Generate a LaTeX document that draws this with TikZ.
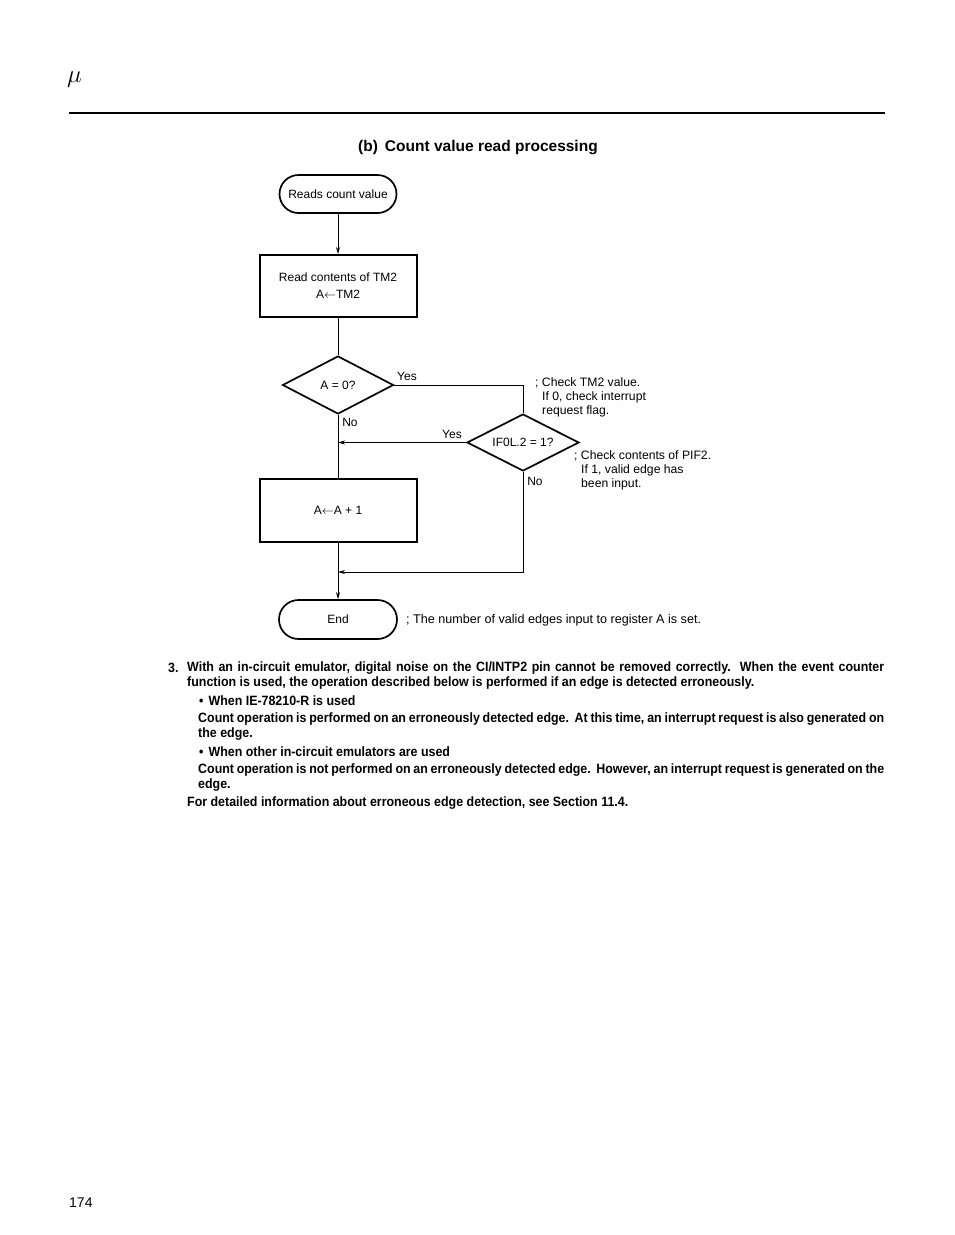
\documentclass[tikz,border=0pt]{standalone}
\usepackage{fontspec}
\setmainfont{Liberation Sans}
\newfontfamily\cond[FakeStretch=0.92]{Liberation Sans}
\usetikzlibrary{arrows.meta,shapes.geometric}
\begin{document}
\begin{tikzpicture}[x=1pt,y=-1pt,
  box/.style={draw,line width=2pt,minimum width=157pt,minimum height=62pt,inner sep=0,align=center,font=\fontsize{12}{17}\selectfont},
  term/.style={draw,line width=1.7pt,rounded corners=19pt,minimum width=117pt,minimum height=38pt,inner sep=0,font=\fontsize{12}{14}\selectfont},
  dec/.style={draw,diamond,aspect=2,line width=1.7pt,minimum width=111pt,minimum height=58pt,inner sep=0,font=\fontsize{12}{14}\selectfont},
  conn/.style={line width=0.9pt},
  arr/.style={conn,-{Stealth[length=7pt,width=4pt]}},
  lbl/.style={inner sep=0,font=\fontsize{12}{14}\selectfont},
  cmt/.style={inner sep=0,anchor=west,font=\fontsize{12.2}{14}\selectfont},
  note/.style={inner sep=0,anchor=west,font=\cond\bfseries\fontsize{13.5}{15}\selectfont}
]
\useasboundingbox (0,0) rectangle (954,1235);

% header
\node[anchor=west,inner sep=0] (mu) at (67,80) {\fontsize{24}{24}\selectfont$\mu$};
\draw[line width=2.2pt] (69,113) coordinate (hl) -- (885,113) coordinate (hr);
\node[anchor=west,inner sep=0,font=\bfseries\fontsize{15.5}{18}\selectfont] (title) at (358,148) {(b)\hspace{7pt}Count value read processing};

% flowchart
\node[term] (start) at (338,194) {Reads count value};
\node[box] (read) at (338,286) {Read contents of TM2\\A$\leftarrow$TM2};
\node[dec] (q1) at (338,385) {A = 0?};
\node[dec,minimum width=112pt,minimum height=57pt] (q2) at (523,442.5) {IF0L.2 = 1?};
\node[box,minimum height=63pt] (inc) at (338,510.5) {A$\leftarrow$A + 1};
\node[term,minimum width=118pt,minimum height=39pt,rounded corners=19.5pt] (end) at (338,619.5) {End};
\coordinate (j) at (338,572);

\draw[arr] (start) -- (read);
\draw[conn] (read) -- (q1);
\draw[conn] (q1.east) -| (q2.north);
\draw[conn] (q1.south) -- (inc.north);
\draw[arr] (q2.west) -- (q2.west -| q1.south);
\draw[arr] (inc) -- (end);
\draw[arr] (q2.south) |- (j);

\node[lbl] (y1) at (407,376) {Yes};
\node[lbl] (n1) at (350,422) {No};
\node[lbl] (y2) at (452,434) {Yes};
\node[lbl] (n2) at (535,481) {No};

\node[cmt] (c1) at (535,383) {; Check TM2 value.};
\node[cmt] (c2) at (542,397) {If 0, check interrupt};
\node[cmt] (c3) at (542,411) {request flag.};
\node[cmt] (c4) at (574,456) {; Check contents of PIF2.};
\node[cmt] (c5) at (581,470) {If 1, valid edge has};
\node[cmt] (c6) at (581,484) {been input.};
\node[cmt,font=\fontsize{12.6}{14}\selectfont] (c7) at (406,620) {; The number of valid edges input to register A is set.};

% notes
\node[note] (n3) at (168,668) {3.};
\node[note] (l1) at (187,668) {\makebox[697pt][s]{With an in-circuit emulator, digital noise on the CI/INTP2 pin cannot be removed correctly.\ \ When the event counter}};
\node[note] (l2) at (187,683) {function is used, the operation described below is performed if an edge is detected erroneously.};
\node[note] (l3) at (199,701) {•\hspace{5pt}When IE-78210-R is used};
\node[note] (l4) at (198,719) {\makebox[686pt][s]{Count operation is performed on an erroneously detected edge.\ \ At this time, an interrupt request is also generated on}};
\node[note] (l5) at (198,734) {the edge.};
\node[note] (l6) at (199,752) {•\hspace{5pt}When other in-circuit emulators are used};
\node[note] (l7) at (198,770) {\makebox[686pt][s]{Count operation is not performed on an erroneously detected edge.\ \ However, an interrupt request is generated on the}};
\node[note] (l8) at (198,785) {edge.};
\node[note] (l9) at (187,803) {For detailed information about erroneous edge detection, see Section 11.4.};

\node[anchor=west,inner sep=0,font=\fontsize{14}{16}\selectfont] (page) at (69,1203) {174};
\end{tikzpicture}
\end{document}
